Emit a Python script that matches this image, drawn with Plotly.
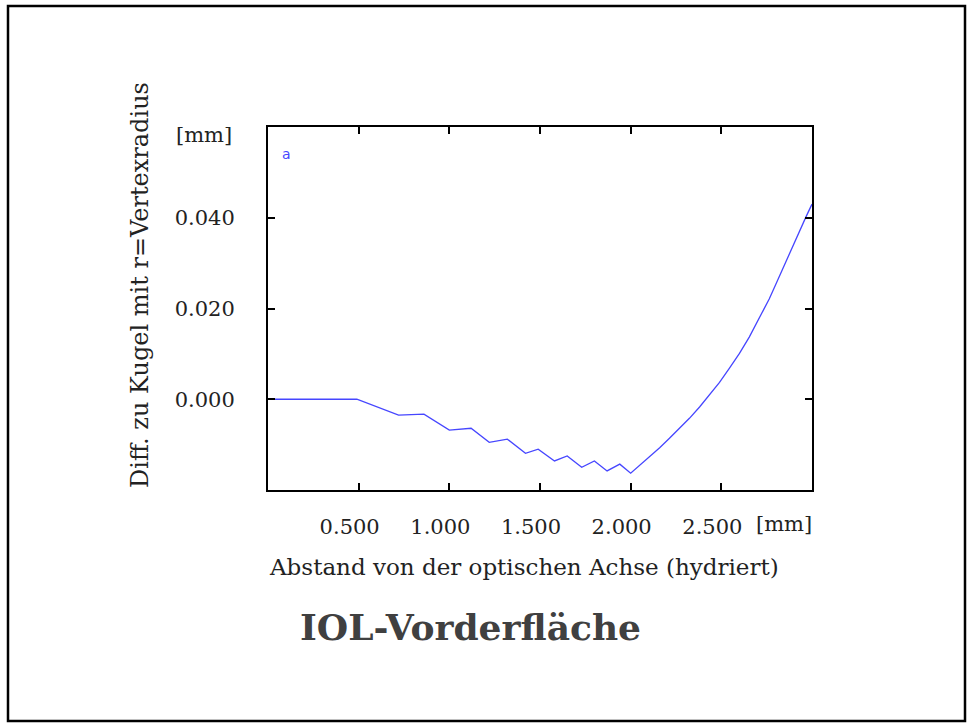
import plotly.graph_objects as go

# Data
x_mm = [0.0, 0.49, 0.72, 0.86, 1.00, 1.12, 1.22, 1.32, 1.42, 1.49, 1.58, 1.65,
        1.73, 1.80, 1.87, 1.94, 2.00, 2.05, 2.104, 2.16, 2.214, 2.27, 2.324,
        2.38, 2.434, 2.49, 2.544, 2.60, 2.654, 2.71, 2.764, 2.80, 2.836, 2.875,
        2.913, 2.94, 2.968, 3.00]
diff_mm = [0.0, 0.0, -0.0035, -0.0033, -0.0068, -0.0064, -0.0095, -0.0088,
           -0.0119, -0.0110, -0.0136, -0.0125, -0.0150, -0.0136, -0.0158,
           -0.0143, -0.0163, -0.0146, -0.0127, -0.0107, -0.0086, -0.0064,
           -0.0042, -0.0017, 0.0009, 0.0037, 0.0068, 0.0101, 0.0137, 0.0178,
           0.0221, 0.0253, 0.0286, 0.0321, 0.0355, 0.0379, 0.0403, 0.0430]
x_ticks = [0.5, 1.0, 1.5, 2.0, 2.5]
x_tick_labels = ["0.500", "1.000", "1.500", "2.000", "2.500"]
y_ticks = [0.0, 0.02, 0.04]
y_tick_labels = ["0.000", "0.020", "0.040"]

W, H = 969, 723
L, R, T, B = 268, 812, 127, 490
pw, ph = R - L, B - T

def px(xp):
    return (xp - L) / pw

def py(yp):
    return (B - yp) / ph

serif = "DejaVu Serif"
txt = "#222"

fig = go.Figure()
fig.add_trace(go.Scatter(x=x_mm, y=diff_mm, mode="lines",
                         line=dict(color="rgb(70,70,255)", width=1.3),
                         showlegend=False, hoverinfo="skip"))

axis_common = dict(showline=True, linecolor="black", linewidth=2, mirror="ticks",
                   ticks="inside", ticklen=7, tickwidth=2, tickcolor="black",
                   showgrid=False, zeroline=False,
                   tickfont=dict(family=serif, size=21, color=txt))

fig.update_xaxes(range=[0, 3], tickvals=x_ticks, ticktext=x_tick_labels,
                 ticklabelstandoff=17, ticklabelshift=-9, **axis_common)
fig.update_yaxes(range=[-0.02, 0.06], tickvals=y_ticks, ticktext=y_tick_labels,
                 ticklabelstandoff=27, **axis_common)

ann = []
ann.append(dict(text="[mm]", x=px(814), y=py(524), xref="paper", yref="paper",
                xanchor="right", yanchor="middle", showarrow=False,
                font=dict(family=serif, size=21, color=txt)))
ann.append(dict(text="[mm]", x=px(234), y=py(135), xref="paper", yref="paper",
                xanchor="right", yanchor="middle", showarrow=False,
                font=dict(family=serif, size=21, color=txt)))
ann.append(dict(text="Abstand von der optischen Achse (hydriert)", x=px(267), y=py(567),
                xref="paper", yref="paper", xanchor="left", yanchor="middle",
                showarrow=False, font=dict(family=serif, size=23, color=txt)))
ann.append(dict(text="Diff. zu Kugel mit r=Vertexradius", x=px(140), y=py(285),
                xref="paper", yref="paper", xanchor="center", yanchor="middle",
                textangle=-90, showarrow=False,
                font=dict(family=serif, size=24, color=txt)))
ann.append(dict(text="<b>IOL-Vorderfläche</b>", x=px(470), y=py(627),
                xref="paper", yref="paper", xanchor="center", yanchor="middle",
                showarrow=False, font=dict(family=serif, size=36, color="#404040")))
ann.append(dict(text="a", x=px(280), y=py(154), xref="paper", yref="paper",
                xanchor="left", yanchor="middle", showarrow=False,
                font=dict(family="DejaVu Sans", size=14, color="rgb(70,70,255)")))

shapes = [dict(type="rect", xref="paper", yref="paper",
               x0=px(8), x1=px(965), y0=py(721), y1=py(6),
               line=dict(color="black", width=2.5), fillcolor="rgba(0,0,0,0)",
               layer="below")]

fig.update_layout(width=W, height=H, margin=dict(l=L, r=W - R, t=T, b=H - B),
                  paper_bgcolor="white", plot_bgcolor="white",
                  annotations=ann, shapes=shapes, showlegend=False)

fig.write_html("out.html")
